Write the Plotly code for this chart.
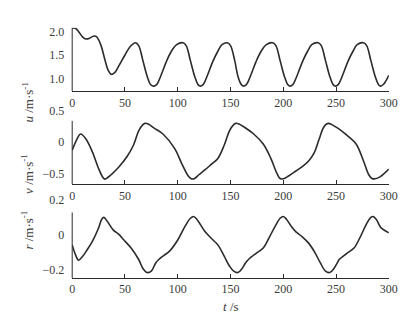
import plotly.graph_objects as go

# ---- data ----
t_u = [0, 3, 6, 10, 13, 16, 20, 23, 27, 31, 34, 37, 40, 45, 50, 55, 60, 63, 67, 71, 74,
       77, 80, 84, 89, 94, 99, 105, 108, 112, 116, 119,
       121, 124, 128, 133, 138, 142, 147, 150, 154, 157, 160,
       162, 165, 169, 174, 179, 184, 190, 193, 197, 201, 204,
       206, 209, 213, 218, 223, 227, 233, 236, 240, 244, 247,
       249, 252, 256, 261, 266, 270, 276, 279, 283, 287, 290,
       292, 295, 300]
u = [2.07, 2.07, 2.00, 1.88, 1.84, 1.85, 1.90, 1.89, 1.72, 1.40, 1.18, 1.09, 1.12, 1.30, 1.50, 1.68, 1.76, 1.70, 1.38, 1.05, 0.88,
     0.84, 0.87, 1.06, 1.35, 1.58, 1.72, 1.76, 1.70, 1.38, 1.05, 0.88,
     0.84, 0.87, 1.06, 1.35, 1.58, 1.72, 1.76, 1.70, 1.38, 1.05, 0.88,
     0.84, 0.87, 1.06, 1.35, 1.58, 1.72, 1.76, 1.70, 1.38, 1.05, 0.88,
     0.84, 0.87, 1.06, 1.35, 1.58, 1.72, 1.76, 1.70, 1.38, 1.05, 0.88,
     0.84, 0.87, 1.06, 1.35, 1.58, 1.72, 1.76, 1.70, 1.38, 1.05, 0.88,
     0.84, 0.88, 1.07]

t_v = [0, 4, 8, 13, 19, 25, 29, 31, 34, 44, 52, 58, 63, 67, 69, 72, 78, 86, 97, 104, 110, 113, 116, 120, 126, 132, 138, 144, 149, 153, 155, 158,
       163, 172, 181, 188, 194, 197, 200, 205, 212, 218, 224, 229, 234, 238, 241, 243, 246, 252, 261, 269, 276, 281, 284, 287, 292, 300]
v = [-0.13, 0.03, 0.13, 0.05, -0.15, -0.42, -0.56, -0.59, -0.56, -0.40, -0.23, -0.05, 0.18, 0.28, 0.30, 0.29, 0.22, 0.13, -0.10, -0.35, -0.54, -0.585, -0.58, -0.52, -0.44, -0.35, -0.26, -0.05, 0.18, 0.28, 0.30, 0.29,
     0.24, 0.13, -0.03, -0.25, -0.50, -0.58, -0.585, -0.54, -0.46, -0.39, -0.30, -0.18, 0.05, 0.23, 0.29, 0.30, 0.28, 0.22, 0.10, -0.03, -0.30, -0.52, -0.58, -0.585, -0.55, -0.43]

t_r = [0, 3, 6, 10, 14, 19, 25, 28, 30, 33, 39, 44, 49, 56, 63, 67, 71, 75, 79, 82, 87, 92, 100, 107, 112, 115, 118, 126,
       132, 138, 144, 149, 153, 157, 161, 164, 167, 174, 181, 187, 192, 197, 200, 203, 208, 212, 218, 224, 230, 235, 240, 244,
       248, 251, 253, 260, 267, 273, 279, 283, 285, 288, 292, 295, 300]
r = [-0.056, -0.11, -0.143, -0.12, -0.085, -0.037, 0.04, 0.09, 0.10, 0.08, 0.028, 0.005, -0.028, -0.075, -0.139, -0.19, -0.213, -0.205, -0.16, -0.139, -0.115, -0.093, -0.028, 0.05, 0.095, 0.105, 0.09, 0.018,
     -0.02, -0.056, -0.12, -0.176, -0.205, -0.213, -0.19, -0.16, -0.139, -0.105, -0.074, -0.01, 0.046, 0.095, 0.105, 0.09, 0.045, 0.018, -0.01, -0.046, -0.10, -0.157, -0.205, -0.213,
     -0.19, -0.16, -0.139, -0.105, -0.074, -0.01, 0.065, 0.10, 0.105, 0.09, 0.046, 0.03, 0.013]

x_ticks = [0, 50, 100, 150, 200, 250, 300]
u_ticks = [1.0, 1.5, 2.0]
u_ticklabels = ["1.0", "1.5", "2.0"]
v_ticks = [-0.5, 0, 0.5]
v_ticklabels = ["\u22120.5", "0", "0.5"]
r_ticks = [-0.2, 0, 0.2]
r_ticklabels = ["\u22120.2", "0", "0.2"]

# ---- styling / layout ----
W, H = 418, 314
FONT = "Liberation Serif, Times New Roman, serif"
LINE = "#2b2b2b"
TXT = "#3a3a3a"
X0, X1 = 63 / W, 389 / W

def py(px):
    return 1 - px / H

panels = [
    # (t, y, ticks, labels, range, domain, axis-line top value)
    (t_u, u, u_ticks, u_ticklabels, [0.73, 2.08], [py(78), py(13)], 2.08),
    (t_v, v, v_ticks, v_ticklabels, [-0.67, 0.5], [py(173), py(98)], 0.34),
    (t_r, r, r_ticks, r_ticklabels, [-0.244, 0.2], [py(269), py(189)], 0.128),
]

fig = go.Figure()
shapes = []
for i, (tt, yy, tv, tl, rng, dom, top) in enumerate(panels, start=1):
    xa = "x" if i == 1 else f"x{i}"
    ya = "y" if i == 1 else f"y{i}"
    fig.add_trace(go.Scatter(x=tt, y=yy, mode="lines", xaxis=xa, yaxis=ya,
                             line=dict(color=LINE, width=1.6, shape="spline", smoothing=1.0),
                             showlegend=False, hoverinfo="skip"))
    key = "" if i == 1 else str(i)
    fig.layout["xaxis" + key] = dict(
        domain=[X0, X1], range=[0, 300], anchor=ya,
        tickvals=x_ticks, ticktext=[str(v) for v in x_ticks],
        showline=True, linecolor=LINE, linewidth=1, ticks="inside", ticklen=4,
        tickcolor=LINE, showgrid=False, zeroline=False,
        tickfont=dict(family=FONT, size=12, color=TXT),
    )
    fig.layout["yaxis" + key] = dict(
        domain=dom, range=rng, anchor=xa,
        tickvals=tv, ticktext=tl, showline=False, ticks="",
        showgrid=False, zeroline=False, ticklabelstandoff=7,
        tickfont=dict(family=FONT, size=12, color=TXT),
    )
    shapes.append(dict(type="line", xref=f"{xa} domain", yref=ya, x0=0, x1=0,
                       y0=rng[0], y1=top, line=dict(color=LINE, width=1)))

titles = [("<i>u</i> /m·s<sup>-1</sup>", 90), ("<i>v</i> /m·s<sup>-1</sup>", 163), ("<i>r</i> /m·s<sup>-1</sup>", 220)]
annotations = []
for txt, cy in titles:
    annotations.append(dict(text=txt, x=17 / W, y=py(cy), xref="paper", yref="paper",
                            textangle=-90, showarrow=False, xanchor="center", yanchor="middle",
                            font=dict(family=FONT, size=13, color=TXT)))
annotations.append(dict(text="<i>t</i> /s", x=(X0 + X1) / 2, y=py(298), xref="paper", yref="paper",
                        showarrow=False, xanchor="center", yanchor="middle",
                        font=dict(family=FONT, size=13, color=TXT)))

fig.update_layout(width=W, height=H, margin=dict(l=0, r=0, t=0, b=0),
                  paper_bgcolor="white", plot_bgcolor="white",
                  shapes=shapes, annotations=annotations)
fig.write_html("out.html")
